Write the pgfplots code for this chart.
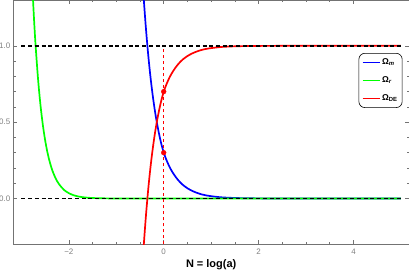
\documentclass[border=0pt]{standalone}
\usepackage{fontspec}
\setmainfont{Liberation Sans}
\usepackage{pgfplots}
\pgfplotsset{compat=1.18}
\definecolor{framegray}{gray}{0.45}
\definecolor{labgray}{gray}{0.5}
\begin{document}
\begin{tikzpicture}
\begin{axis}[
  scale only axis,
  width=395.2bp, height=244bp,
  xmin=-3.17, xmax=5.17, ymin=-0.30, ymax=1.30,
  axis line style={draw=framegray, line width=0.9bp},
  xtick={-2,0,2,4}, xticklabels={−2,0,2,4},
  ytick={0,0.5,1}, yticklabels={0.0,0.5,1.0},
  minor x tick num=3, minor y tick num=4,
  major tick length=4bp, minor tick length=2.2bp,
  tick style={draw=framegray, line width=0.6bp},
  tick align=inside,
  ticklabel style={font=\fontsize{8}{9}\selectfont, text=labgray},
  xticklabel style={yshift=-1bp},
  yticklabel style={xshift=0.5bp},
  xlabel={\textbf{N = log(a)}},
  xlabel style={at={(axis description cs:0.5,0)}, anchor=north, inner sep=0pt, yshift=-15bp, font=\fontsize{11}{12}\selectfont},
  legend style={at={(0.9835,0.783)}, anchor=north east, draw=black, line width=0.6bp, rounded corners=6bp, fill=white,
    font=\fontsize{8.5}{10}\selectfont\bfseries, inner xsep=3bp, inner ysep=4bp, row sep=7.5bp,
    nodes={inner sep=1.5bp}},
  legend cell align=left,
  clip=true,
]
% Omega_m
\addplot[color=blue, line width=1.7bp, smooth] coordinates {
(-0.44,1.40)(-0.42,1.304)(-0.40,1.217)(-0.38,1.134)(-0.36,1.058)(-0.34,0.986)(-0.32,0.919)(-0.30,0.857)
(-0.28,0.799)(-0.26,0.745)(-0.24,0.695)(-0.22,0.648)(-0.20,0.604)(-0.18,0.563)(-0.16,0.525)(-0.14,0.490)
(-0.12,0.457)(-0.10,0.426)(-0.08,0.397)(-0.06,0.370)(-0.04,0.345)(-0.02,0.322)(0,0.300)
(0.05,0.258)(0.10,0.222)(0.15,0.191)(0.20,0.165)(0.25,0.142)(0.30,0.122)(0.35,0.105)(0.40,0.090)
(0.50,0.067)(0.60,0.050)(0.70,0.037)(0.80,0.027)(0.90,0.020)(1.00,0.015)(1.20,0.008)(1.40,0.0045)
(1.60,0.0025)(1.80,0.0014)(2.00,0.0007)(2.50,0.0002)(3.00,0)(4.00,0)(5.00,0)};
\addlegendentry{Ω\textsubscript{\textit{m}}}
% Omega_r
\addplot[color=green, line width=1.7bp, smooth] coordinates {
(-2.78,1.46)(-2.76,1.334)(-2.74,1.212)(-2.72,1.10)(-2.70,1.0)(-2.65,0.787)(-2.60,0.619)(-2.55,0.487)(-2.50,0.383)
(-2.45,0.301)(-2.40,0.237)(-2.35,0.186)(-2.30,0.147)(-2.25,0.115)(-2.20,0.091)(-2.10,0.056)
(-2.00,0.035)(-1.90,0.0215)(-1.80,0.0133)(-1.70,0.0082)(-1.60,0.0051)(-1.50,0.0032)(-1.40,0.002)
(-1.20,0.0007)(-1.00,0.0003)(-0.50,0)(0,0)(1,0)(2,0)(3,0)(4,0)(5,0)};
\addlegendentry{Ω\textsubscript{\textit{r}}}
% Omega_DE
\addplot[color=red, line width=1.7bp, smooth] coordinates {
(-0.44,-0.40)(-0.42,-0.304)(-0.40,-0.217)(-0.38,-0.134)(-0.36,-0.058)(-0.34,0.014)(-0.32,0.081)(-0.30,0.143)
(-0.28,0.201)(-0.26,0.255)(-0.24,0.305)(-0.22,0.352)(-0.20,0.396)(-0.18,0.437)(-0.16,0.475)(-0.14,0.510)
(-0.12,0.543)(-0.10,0.574)(-0.08,0.603)(-0.06,0.630)(-0.04,0.655)(-0.02,0.678)(0,0.700)
(0.05,0.742)(0.10,0.778)(0.15,0.809)(0.20,0.835)(0.25,0.858)(0.30,0.878)(0.35,0.895)(0.40,0.910)
(0.50,0.933)(0.60,0.950)(0.70,0.963)(0.80,0.973)(0.90,0.980)(1.00,0.985)(1.20,0.992)(1.40,0.9955)
(1.60,0.9975)(1.80,0.9986)(2.00,0.9993)(2.50,0.9998)(3.00,1)(4.00,1)(5.00,1)};
\addlegendentry{Ω\textsubscript{DE}}
% vertical reference line at N=0
\addplot[forget plot, color=red, line width=1.5bp, dash pattern=on 3.5bp off 2.5bp] coordinates {(0,-0.3)(0,1)};
% horizontal reference lines
\addplot[forget plot, color=black, line width=1.4bp, dash pattern=on 4bp off 2.7bp] coordinates {(-3,0)(5,0)};
\addplot[forget plot, color=black, line width=1.4bp, dash pattern=on 4bp off 2.7bp] coordinates {(-3,1)(5,1)};
\addplot[forget plot, only marks, mark=*, color=red, mark options={fill=red, draw=red}, mark size=2.4bp] coordinates {(0,0.7)(0,0.3)};
\end{axis}
\pgfresetboundingbox
\path (-13.3bp,-30bp) rectangle (395.2bp,244bp);
\end{tikzpicture}
\end{document}
